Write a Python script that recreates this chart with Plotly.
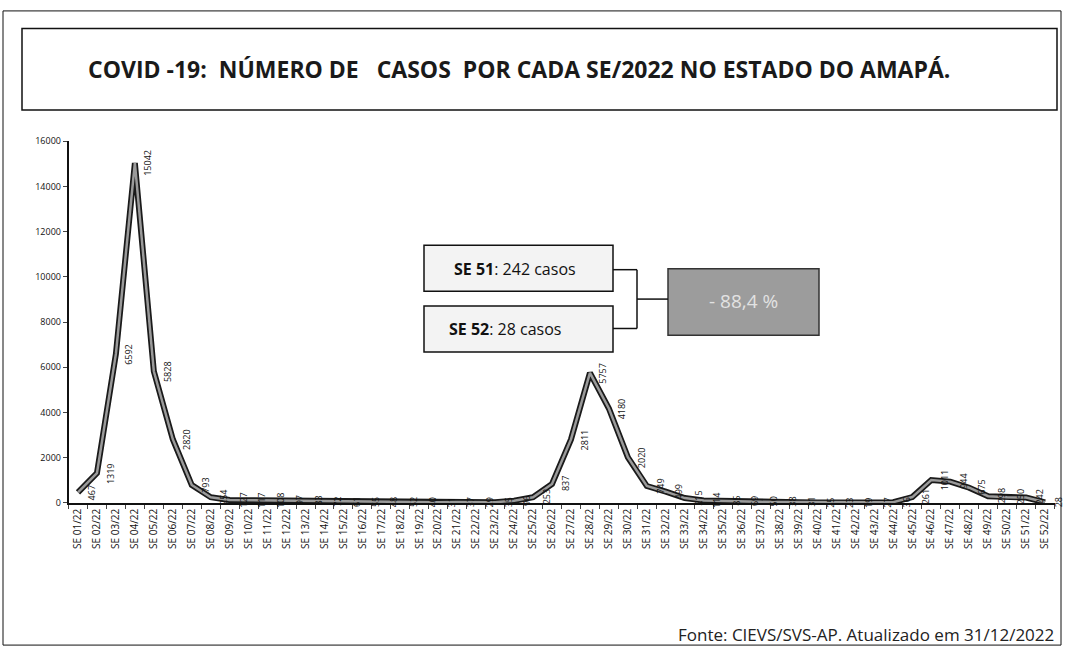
import plotly.graph_objects as go

weeks = [f"SE {i:02d}/22" for i in range(1, 53)]
cases = [467, 1319, 6592, 15042, 5828, 2820, 793, 254, 127, 117,
         108, 97, 83, 72, 61, 55, 48, 52, 40, 31,
         37, 29, 35, 96, 253, 837, 2811, 5757, 4180, 2020,
         749, 499, 215, 114, 85, 69, 50, 38, 31, 25,
         23, 19, 27, 36, 261, 1011, 944, 675, 298, 250,
         242, 28]
y_ticks = [0, 2000, 4000, 6000, 8000, 10000, 12000, 14000, 16000]
y_tick_labels = [str(v) for v in y_ticks]

title_text = "COVID -19:  NÚMERO DE   CASOS  POR CADA SE/2022 NO ESTADO DO AMAPÁ."
box1_text = "<b>SE 51</b>: 242 casos"
box2_text = "<b>SE 52</b>: 28 casos"
pct_text = "- 88,4 %"
source_text = "Fonte: CIEVS/SVS-AP. Atualizado em 31/12/2022"

W, H = 1065, 655
def px(x):
    return x / W
def py(y):
    return 1 - y / H

fig = go.Figure()
fig.add_trace(go.Scatter(x=weeks, y=cases, mode="lines",
                         line=dict(color="#1a1a1a", width=6), hoverinfo="skip"))
fig.add_trace(go.Scatter(x=weeks, y=cases, mode="lines",
                         line=dict(color="#9a9a9a", width=2.5), hoverinfo="skip"))

annotations = []
for w, v in zip(weeks, cases):
    annotations.append(dict(x=w, y=v, xref="x", yref="y", text=str(v),
                            showarrow=False, textangle=-90, xshift=13,
                            xanchor="center", yanchor="middle",
                            font=dict(family="Open Sans", size=9, color="#111")))

def txt(x, y, text, size, color="#111", xanchor="center"):
    return dict(x=px(x), y=py(y), xref="paper", yref="paper", text=text,
                showarrow=False, xanchor=xanchor, yanchor="middle",
                font=dict(family="Open Sans", size=size, color=color))

annotations += [
    txt(519, 63, f"<b>{title_text}</b>", 23, "#1a1a1a"),
    txt(515, 267, box1_text, 16),
    txt(505, 329, box2_text, 16),
    txt(743, 300, pct_text, 19, "#e2e2e2"),
    txt(1056, 640, source_text, 17, "#222", xanchor="right"),
]

def rect(x0, y0, x1, y1, fill="rgba(0,0,0,0)", lc="#111", lw=1.5):
    return dict(type="rect", xref="paper", yref="paper",
                x0=px(x0), x1=px(x1), y0=py(y1), y1=py(y0),
                fillcolor=fill, line=dict(color=lc, width=lw), layer="below")

def line(x0, y0, x1, y1, lw=1.5):
    return dict(type="line", xref="paper", yref="paper",
                x0=px(x0), x1=px(x1), y0=py(y0), y1=py(y1),
                line=dict(color="#111", width=lw))

shapes = [
    rect(3, 4, 1061, 651, lw=1),
    rect(22, 22, 1057, 105, lw=1.5),
    rect(424, 243, 613, 290, fill="#f3f3f3"),
    rect(424, 305, 613, 352, fill="#f3f3f3"),
    rect(668, 267, 819, 335, fill="#9c9c9c", lc="#333"),
    line(613, 268, 637, 268),
    line(637, 268, 637, 328),
    line(613, 328, 637, 328),
    line(637, 298, 668, 298),
]

fig.update_layout(
    width=W, height=H,
    margin=dict(l=0, r=0, t=0, b=0),
    paper_bgcolor="white", plot_bgcolor="white",
    showlegend=False,
    annotations=annotations,
    shapes=shapes,
    xaxis=dict(domain=[px(68.5), px(1054.5)], type="category",
               range=[-0.5, 51.5], tickangle=-90,
               tickfont=dict(family="Open Sans", size=10, color="#111"),
               showline=True, linecolor="#111", linewidth=1.5,
               ticks="outside", ticklen=4, tickson="boundaries",
               showgrid=False, zeroline=False),
    yaxis=dict(domain=[py(506), py(137)], range=[0, 16000],
               tickvals=y_ticks, ticktext=y_tick_labels,
               tickfont=dict(family="Open Sans", size=9, color="#111"),
               showline=True, linecolor="#111", linewidth=1.5,
               ticks="outside", ticklen=4, showgrid=False, zeroline=False),
)

fig.write_html("out.html", config={"displayModeBar": False},
               post_script="document.body.style.margin='0px';")
